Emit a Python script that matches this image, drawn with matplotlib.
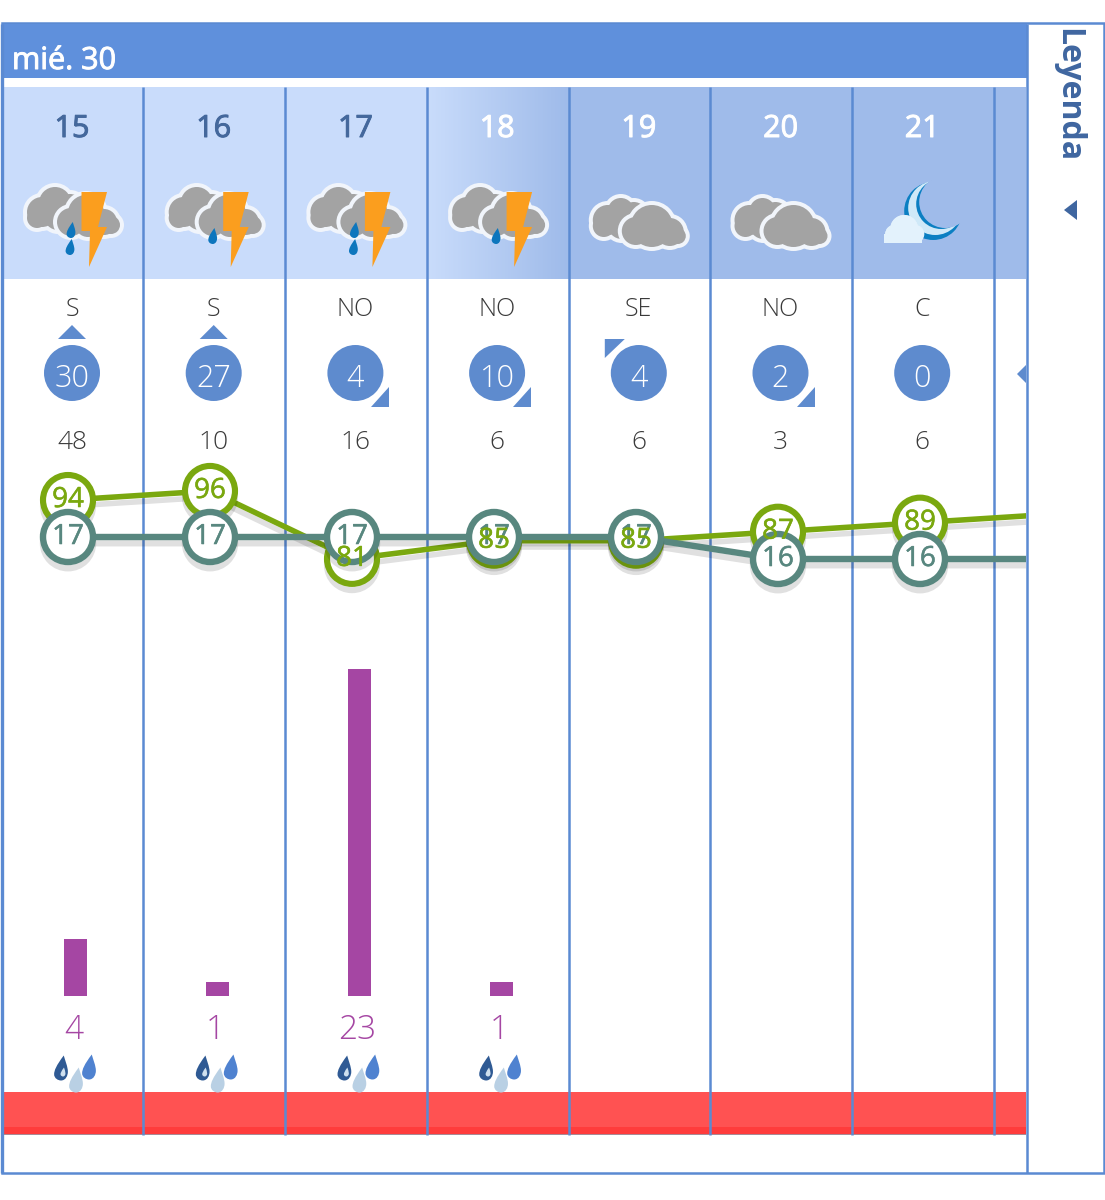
# -*- coding: utf-8 -*-

import numpy as np
import matplotlib
matplotlib.use("Agg")
import matplotlib.pyplot as plt
import matplotlib.patheffects as pe
from matplotlib.patches import Circle, Polygon, PathPatch, Rectangle
from matplotlib.path import Path

plt.rcParams["font.family"] = ["Open Sans", "DejaVu Sans"]

DAY_LABEL = "mié. 30"
LEGEND_LABEL = "Leyenda"

hours = [15, 16, 17, 18, 19, 20, 21]
line_hours = [15, 16, 17, 18, 19, 20, 21, 22]
wind_dir = ["S", "S", "NO", "NO", "SE", "NO", "C"]
wind_speed = [30, 27, 4, 10, 4, 2, 0]
wind_gust = [48, 10, 16, 6, 6, 3, 6]
humidity = [94, 96, 81, 85, 85, 87, 89, 91]
temperature = [17, 17, 17, 17, 17, 16, 16, 16]
rain_hours = [15, 16, 17, 18]
rain_mm = [4, 1, 23, 1]
sky = ["storm2", "storm1", "storm2", "storm1", "cloud", "cloud", "moon"]

BLUE = "#5f90dc"
SEP = "#5b8ad2"
LIGHT_BAND = "#c9dcfb"
DARK_BAND = "#9fbbea"
WIND_BLUE = "#5e8bce"
GREEN = "#7aa80f"
TEAL = "#58877f"
PURPLE = "#a546a3"
TEXT = "#3a3a3a"
HOUR_DARK = "#44689c"

W, H = 1105, 1200
COL0, COL_W = 72.0, 141.7
PLOT_L, PLOT_R = 3, 1026


def thick(color, width=0.7):
    # the installed Open Sans is lighter than the page's regular weight
    return [pe.withStroke(linewidth=width, foreground=color)]


def px_axes(fig, zorder):
    ax = fig.add_axes([PLOT_L / W, 0, (PLOT_R - PLOT_L) / W, 1], zorder=zorder)
    ax.patch.set_alpha(0)
    ax.axis("off")
    # hour scale shared by the overlay axes, 142 px per hour and 15h at x=68
    ax.set_xlim(15 + (PLOT_L - 68) / 142, 15 + (PLOT_R - 68) / 142)
    return ax


def draw_cloud(ax, parts, color="#a3a3a3", edge="#f1f5fb", grow=4, z=3):
    for cx, cy, r in parts:
        ax.add_patch(Circle((cx, cy), r + grow, fc=edge, ec="none", zorder=z))
    for cx, cy, r in parts:
        ax.add_patch(Circle((cx, cy), r, fc=color, ec="none", zorder=z + 0.1))


def draw_drop(ax, x, y, h, color, z=5.0):
    w = h * 0.55
    verts = [(x + w * 0.2, y - h / 2), (x - w * 0.35, y - h * 0.1), (x - w / 2, y + h * 0.1),
             (x - w / 2, y + h * 0.25), (x - w / 2, y + h * 0.42), (x - w * 0.2, y + h / 2), (x, y + h / 2),
             (x + w * 0.35, y + h / 2), (x + w / 2, y + h * 0.3), (x + w / 2, y + h * 0.15),
             (x + w / 2, y - h * 0.05), (x + w * 0.3, y - h * 0.3), (x + w * 0.2, y - h / 2)]
    codes = [Path.MOVETO] + [Path.CURVE4] * 12
    ax.add_patch(PathPatch(Path(verts, codes), fc=color, ec="none", zorder=z))


def draw_two_clouds(ax, dx, z=3):
    back = [(42, 212, 15), (55, 203, 16), (70, 208, 14), (37, 218, 10), (58, 216, 14)]
    front = [(71, 222, 14), (86, 213, 18), (104, 222, 13), (111, 225, 9), (88, 224, 13)]
    draw_cloud(ax, [(a + dx, b, r) for a, b, r in back], z=z)
    draw_cloud(ax, [(a + dx, b, r) for a, b, r in front], z=z + 0.2)


def draw_icon(ax, kind, x):
    dx = x - 72
    if kind.startswith("storm"):
        draw_two_clouds(ax, dx)
        if kind == "storm2":
            draw_drop(ax, 71 + dx, 230, 16, "#0d76bd")
            draw_drop(ax, 70 + dx, 247, 16, "#0d76bd")
        else:
            draw_drop(ax, 71 + dx, 236, 16, "#0d76bd")
        bolt = [(81.5, 192), (107, 192), (98, 227), (107, 227), (89, 267), (90, 231), (81.5, 231)]
        ax.add_patch(Polygon([(a + dx, b) for a, b in bolt], fc="#fb9e1e", ec="none", zorder=6))
    elif kind == "cloud":
        back = [(608, 220, 15), (621, 211, 13), (634, 215, 13), (604, 226, 11), (622, 225, 14)]
        front = [(636, 231, 14), (652, 226, 21), (670, 232, 14), (678, 236, 8), (655, 234, 10)]
        off = x - 639
        draw_cloud(ax, [(a + off, b, r) for a, b, r in back], z=3)
        draw_cloud(ax, [(a + off, b, r) for a, b, r in front], z=3.3)
    else:
        off = x - 922
        ax.add_patch(Circle((933 + off, 211), 29, fc="#0b7fc2", ec="none", zorder=3))
        ax.add_patch(Circle((935 + off, 208), 27, fc="#cfe9f8", ec="none", zorder=3.1))
        ax.add_patch(Circle((941 + off, 204), 25, fc="#0b7fc2", ec="none", zorder=3.15))
        ax.add_patch(Circle((945 + off, 202), 26, fc=DARK_BAND, ec="none", zorder=3.2))
        draw_cloud(ax, [(894 + off, 234, 9), (904 + off, 229, 14), (915 + off, 234, 9)],
                   color="#e3f2fc", edge="#e3f2fc", grow=0, z=4)
        ax.add_patch(Rectangle((884 + off, 234), 38, 9, fc="#e3f2fc", ec="none", zorder=4.2))


def draw_wind_arrow(ax, direction, x):
    if direction == "S":
        pts = [(x - 14, 339), (x + 14, 339), (x, 325)]
    elif direction == "NO":
        pts = [(x + 34, 387), (x + 34, 407), (x + 16, 407)]
    elif direction == "SE":
        pts = [(x - 34, 339), (x - 14, 339), (x - 34, 358)]
    else:
        return
    ax.add_patch(Polygon(pts, fc=WIND_BLUE, ec="none", zorder=3))


def main():
    fig = plt.figure(figsize=(W / 100, H / 100), dpi=100, facecolor="white")

    # ===== page chrome, pixel coordinates =====
    ax = fig.add_axes([0, 0, 1, 1], zorder=1)
    ax.set_xlim(0, W)
    ax.set_ylim(H, 0)
    ax.axis("off")

    ax.add_patch(Rectangle((1.5, 23), 1102, 1150, fc="white", ec=SEP, lw=1.8, zorder=0.5))
    ax.add_patch(Rectangle((2, 24), 1025, 54, fc=BLUE, ec="none", zorder=1))
    ax.text(12, 69, DAY_LABEL, color="white", fontsize=22, va="baseline", ha="left", zorder=2,
            path_effects=thick("white"))

    # hour band, 18h fades from light to dark
    ax.add_patch(Rectangle((3, 87), PLOT_R - 3, 192, fc=DARK_BAND, ec="none", zorder=1))
    ax.add_patch(Rectangle((3, 87), 424, 192, fc=LIGHT_BAND, ec="none", zorder=1.1))
    grad = np.linspace(0, 1, 142).reshape(1, -1)
    cmap = matplotlib.colors.LinearSegmentedColormap.from_list("band", [LIGHT_BAND, DARK_BAND])
    ax.imshow(grad, extent=(427, 569, 279, 87), aspect="auto", cmap=cmap, zorder=1.2)
    ax.set_xlim(0, W)
    ax.set_ylim(H, 0)

    # red strip
    ax.add_patch(Rectangle((3, 1092), PLOT_R - 3, 43, fc="#ff5252", ec="none", zorder=1))
    ax.add_patch(Rectangle((3, 1127), PLOT_R - 3, 7, fc="#ff3c3c", ec="none", zorder=1.1))
    ax.add_patch(Rectangle((3, 1134), PLOT_R - 3, 1, fc="#a98a95", ec="none", zorder=1.2))

    for i in range(1, 8):
        xs = 1.5 + 141.75 * i
        ax.plot([xs, xs], [87, 1135], color=SEP, lw=1.8, zorder=2, solid_capstyle="butt")
    ax.plot([1027, 1027], [24, 1173], color=SEP, lw=1.8, zorder=2, solid_capstyle="butt")
    ax.plot([1.5, 1.5], [24, 1173], color=SEP, lw=2.4, zorder=2, solid_capstyle="butt")

    ax.text(1068, 28, LEGEND_LABEL, rotation=-90, color="#3f66a0", fontsize=23, fontweight="bold",
            ha="center", va="top", zorder=3)
    ax.add_patch(Polygon([(1064, 210), (1077, 200), (1077, 220)], fc="#3f66a0", ec="none", zorder=3))

    # ===== per column rows =====
    for i, h in enumerate(hours):
        x = COL0 + COL_W * i
        color = HOUR_DARK if h < 18 else "white"
        ax.text(x, 137, str(h), color=color, fontsize=22, ha="center", va="baseline", zorder=4,
                path_effects=thick(color))
        draw_icon(ax, sky[i], x)
        ax.text(x, 316, wind_dir[i], color=TEXT, fontsize=18, fontweight="light", ha="center", va="baseline", zorder=4)
        draw_wind_arrow(ax, wind_dir[i], x)
        ax.add_patch(Circle((x, 373), 28, fc=WIND_BLUE, ec="none", zorder=3))
        ax.text(x, 387, str(wind_speed[i]), color="white", fontsize=22, fontweight="light", ha="center", va="baseline", zorder=4)
        ax.text(x, 449, str(wind_gust[i]), color=TEXT, fontsize=19, fontweight="light", ha="center", va="baseline", zorder=4)

    ax.add_patch(Polygon([(1017, 374), (1026, 365), (1026, 383)], fc=WIND_BLUE, ec="none", zorder=3))

    for i, h in enumerate(rain_hours):
        x = COL0 + COL_W * i
        ax.text(x + 2, 1039, str(rain_mm[i]), color=PURPLE, fontsize=24, fontweight="light", ha="center", va="baseline", zorder=4)
        draw_drop(ax, x - 11, 1068, 25, "#2f5a94", z=4)
        draw_drop(ax, x - 9, 1072, 9, "#cfe0ef", z=4.1)
        draw_drop(ax, x + 4, 1080, 25, "#b9d0e4", z=3.9)
        draw_drop(ax, x + 17, 1067, 25, "#4f82d0", z=4)

    # ===== rain bars =====
    ax_rain = px_axes(fig, 2)
    ax_rain.set_ylim(-(H - 996) / 14.2, 996 / 14.2)
    ax_rain.bar(np.array(rain_hours) + 7.5 / 142, rain_mm, width=23 / 142, color=PURPLE)

    # ===== humidity =====
    shadow = [pe.SimpleLineShadow(offset=(0, -4.5), shadow_color="k", alpha=0.12), pe.Normal()]
    ax_hum = px_axes(fig, 3)
    ax_hum.set_ylim(94 + (500 - H) / 4.53, 94 + 500 / 4.53)
    ax_hum.plot(line_hours, humidity, color=GREEN, lw=4, path_effects=shadow)
    ax_hum.plot(hours, humidity[:7], ls="none", marker="o", ms=36, mfc="white", mec=GREEN, mew=4.4, path_effects=shadow)

    # ===== temperature =====
    ax_tmp = px_axes(fig, 4)
    ax_tmp.set_ylim(17 + (537 - H) / 22, 17 + 537 / 22)
    ax_tmp.plot(line_hours, temperature, color=TEAL, lw=4.6, path_effects=shadow)
    ax_tmp.plot(hours, temperature[:7], ls="none", marker="o", ms=36, mfc="white", mec=TEAL, mew=4.6, path_effects=shadow)

    # labels go above both sets of rings
    ax_lbl_t = px_axes(fig, 5)
    ax_lbl_t.set_ylim(ax_tmp.get_ylim())
    ax_lbl_h = px_axes(fig, 6)
    ax_lbl_h.set_ylim(ax_hum.get_ylim())
    for h, t, v in zip(hours, temperature, humidity):
        ax_lbl_t.annotate(str(t), (h, t), xytext=(0, 0), textcoords="offset points", color=TEAL,
                          fontsize=20, ha="center", va="center", path_effects=thick(TEAL, 0.4))
        ax_lbl_h.annotate(str(v), (h, v), xytext=(0, 0), textcoords="offset points", color=GREEN,
                          fontsize=20, ha="center", va="center", path_effects=thick(GREEN, 0.4))

    fig.savefig("out.png", dpi=100)
    plt.close(fig)


if __name__ == "__main__":
    main()
